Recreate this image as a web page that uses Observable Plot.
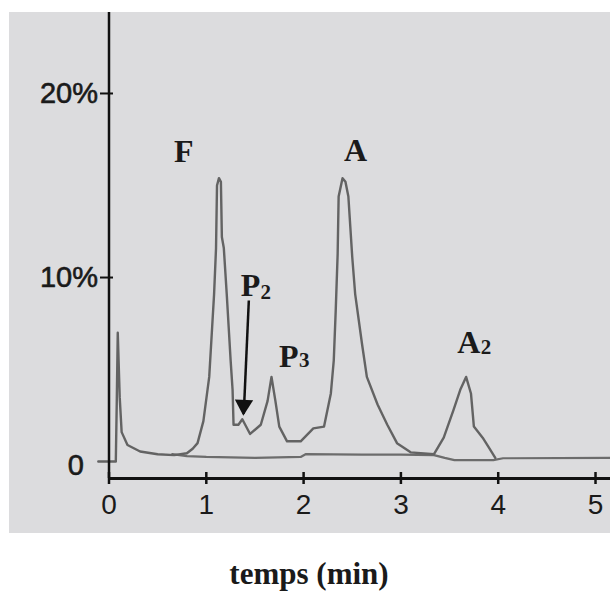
<!DOCTYPE html>
<html><head><meta charset="utf-8">
<script src="https://cdn.jsdelivr.net/npm/d3@7"></script>
<script src="https://cdn.jsdelivr.net/npm/@observablehq/plot@0.6"></script>
<style>
html,body{margin:0;padding:0;background:#fff;}
#wrap{position:relative;width:610px;height:593px;overflow:hidden;}
#panel{position:absolute;left:9px;top:12px;width:601px;height:521px;background:#dcdcde;}
#panel svg{display:block;overflow:visible;}
#xlabel{position:absolute;top:559px;left:309px;transform:translateX(-50%);font:bold 31px "Liberation Serif","Times New Roman",serif;line-height:30px;color:#1a1a1a;white-space:nowrap;}
</style></head><body>
<div id="wrap"><div id="panel"></div><div id="xlabel">temps (min)</div></div>
<script>
// main chromatogram (time in min, signal in %)
const trace1Time = [-0.11, 0.07, 0.08, 0.09, 0.11, 0.13, 0.19, 0.32, 0.50, 0.67, 0.80, 0.86, 0.91, 0.97, 1.03, 1.06, 1.08, 1.10, 1.11, 1.13, 1.15, 1.16, 1.18, 1.21, 1.23, 1.25, 1.27, 1.28, 1.33, 1.37, 1.45, 1.56, 1.63, 1.67, 1.71, 1.75, 1.83, 1.97, 2.10, 2.21, 2.28, 2.31, 2.33, 2.35, 2.36, 2.40, 2.43, 2.46, 2.50, 2.53, 2.60, 2.65, 2.76, 2.86, 2.96, 3.10, 3.34, 3.44, 3.54, 3.61, 3.67, 3.72, 3.75, 3.84, 3.90, 3.97];
const trace1Value = [0, 0, 3.3, 7.0, 3.5, 1.6, 0.9, 0.55, 0.4, 0.35, 0.45, 0.7, 1.0, 2.2, 4.6, 7.3, 9.1, 11.6, 15.0, 15.4, 15.2, 12.2, 11.6, 9.1, 7.3, 5.5, 3.9, 2.0, 2.0, 2.3, 1.5, 2.0, 3.3, 4.6, 3.3, 1.9, 1.1, 1.1, 1.8, 1.9, 3.7, 5.5, 8.2, 11.3, 14.4, 15.4, 15.2, 14.4, 11.1, 9.1, 6.4, 4.6, 3.1, 2.0, 1.0, 0.5, 0.4, 1.3, 2.8, 3.9, 4.6, 3.7, 1.9, 1.3, 0.8, 0.2];
// flat baseline trace
const trace2Time = [0.65, 0.80, 1.00, 1.50, 1.97, 2.02, 2.60, 3.00, 3.34, 3.45, 3.55, 3.95, 4.05, 5.154];
const trace2Value = [0.4, 0.3, 0.25, 0.2, 0.25, 0.4, 0.38, 0.38, 0.35, 0.2, 0.08, 0.08, 0.18, 0.2];

const xTicks = [0, 1, 2, 3, 4, 5];
const yTicks = [0, 10, 20];
const yTickLabels = ["0", "10%", "20%"];
const xDomain = [0, 5.154];
const yDomain = [-0.92, 24.4];

// peak labels
const peakNames = ["F", "A", "P", "P", "A"];
const peakTime = [0.769, 2.533, 1.454, 1.848, 3.698];
const peakValue = [16.81, 16.90, 9.57, 5.67, 6.48];
const subNames = ["2", "3", "2"];
const subTime = [1.612, 2.006, 3.875];
const subValue = [9.2, 5.49, 6.21];

// arrow pointing at P2
const arrowFrom = [1.437, 8.75];
const arrowTo = [1.385, 2.6];

const trace1 = trace1Time.map((t, i) => ({t, v: trace1Value[i]}));
const trace2 = trace2Time.map((t, i) => ({t, v: trace2Value[i]}));
const peaks = peakNames.map((name, i) => ({name, t: peakTime[i], v: peakValue[i]}));
const subs = subNames.map((name, i) => ({name, t: subTime[i], v: subValue[i]}));
const arrow = [{x1: arrowFrom[0], y1: arrowFrom[1], x2: arrowTo[0], y2: arrowTo[1]}];
const yLabelData = yTicks.map((v, i) => ({v, label: yTickLabels[i]}));

const sans = "'Liberation Sans', Arial, Helvetica, sans-serif";
const serif = "'Liberation Serif', 'Times New Roman', serif";
const ink = "#1a1a1a";

const chart = Plot.plot({
  width: 601,
  height: 521,
  marginLeft: 99.5,
  marginRight: 0,
  marginTop: 0,
  marginBottom: 55,
  x: {domain: xDomain},
  y: {domain: yDomain},
  style: {background: "transparent", color: ink, fontFamily: sans, overflow: "visible"},
  marks: [
    Plot.line(trace2, {x: "t", y: "v", stroke: "#6c6c6c", strokeWidth: 2.2}),
    Plot.line(trace1, {x: "t", y: "v", stroke: "#636363", strokeWidth: 2.4, strokeLinejoin: "round"}),
    Plot.ruleX([xDomain[0]], {y1: yDomain[0], y2: yDomain[1], stroke: "#111", strokeWidth: 2.5}),
    Plot.ruleY([yDomain[0]], {x1: xDomain[0], x2: xDomain[1], stroke: "#111", strokeWidth: 3}),
    Plot.axisX({ticks: xTicks, tickSize: 12, dy: -6, tickFormat: () => "", strokeWidth: 2.5, stroke: "#111"}),
    Plot.axisX({ticks: xTicks, tickSize: 0, tickPadding: 16, fontSize: 28, fill: ink, stroke: ink, strokeWidth: 0.6, tickFormat: d => String(d)}),
    Plot.axisY({ticks: yTicks.filter(d => d > 0), tickSize: 13, dx: 4.5, tickFormat: () => "", strokeWidth: 2, stroke: "#111"}),
    Plot.text(yLabelData.filter(d => d.v > 0), {x: xDomain[0], y: "v", text: "label", textAnchor: "end", dx: -11, fontSize: 29, fill: ink, stroke: ink, strokeWidth: 0.6}),
    Plot.text(yLabelData.filter(d => d.v === 0), {x: xDomain[0], y: "v", text: "label", textAnchor: "end", dx: -25, dy: 4, fontSize: 29, fill: ink, stroke: ink, strokeWidth: 0.6}),
    Plot.link(arrow, {x1: "x1", y1: "y1", x2: "x2", y2: "y2", stroke: "#111", strokeWidth: 2.5}),
    Plot.dot(arrow, {x: "x2", y: "y2", symbol: "triangle", r: 6.8, fill: "#111", stroke: "none", rotate: 182.5, dy: -8.5}),
    Plot.text(peaks, {x: "t", y: "v", text: "name", fontFamily: serif, fontWeight: "bold", fontSize: 32, fill: ink}),
    Plot.text(subs, {x: "t", y: "v", text: "name", fontFamily: serif, fontWeight: "bold", fontSize: 21, fill: ink})
  ]
});
document.getElementById("panel").appendChild(chart);
</script>
</body></html>
